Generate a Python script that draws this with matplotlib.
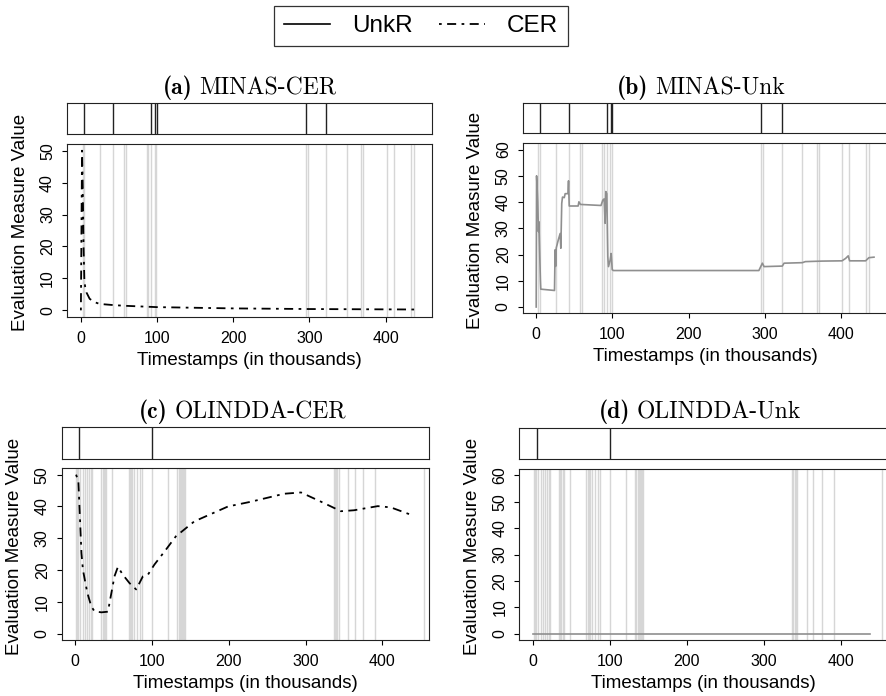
import matplotlib
matplotlib.use('Agg')
import matplotlib.pyplot as plt
from matplotlib.lines import Line2D

plt.rcParams['font.family'] = ['Liberation Sans', 'DejaVu Sans']

# drift / novelty markers (timestamps in thousands)
marks_minas = [3, 4.5, 25.4, 42.8, 56.8, 59.6, 86.7, 89.1, 92.5, 97.3, 99.6,
               295, 298, 322, 349, 368, 370.5, 401.5, 410.5, 433, 436.5]
marks_olindda = [1, 2.5, 4, 6.5, 10, 12.6, 15.6, 17.8, 20.4, 22.1,
                 34, 35.5, 37, 38.5, 40, 47.7, 69.5, 71, 72.5, 74, 77.1, 80.6,
                 84.5, 87.5, 100, 121, 133, 134.5, 136, 137.5, 139, 140.5, 142,
                 143.5, 337, 338.5, 340, 341.5, 343, 355.5, 364.5, 375, 391, 454]
strip_minas = [5, 43, 93, 98, 100, 295, 322]
strip_olindda = [5, 100]

# (a) MINAS CER
cer_minas_x = [0.5, 2, 3, 4, 5, 6, 8, 12, 18, 25, 35, 45, 60, 80, 100, 150,
               200, 250, 300, 350, 400, 443]
cer_minas_y = [0, 50, 38, 20, 10, 7.5, 5.5, 3.6, 2.6, 2.0, 1.8, 1.6, 1.4, 1.2,
               1.0, 0.8, 0.6, 0.5, 0.4, 0.35, 0.3, 0.25]

# (b) MINAS UnkR
unk_minas_x = [0, 0.5, 2, 3, 3.5, 5.5, 6, 24, 24.8, 25.5, 26.3, 29, 31.4, 32.3,
               33.5, 34.5, 36.8, 38, 41.6, 42.4, 43.3, 55, 56, 58, 85, 87.3,
               89.1, 90.4, 91.3, 92.6, 93.9, 94.8, 97, 98.3, 99.7, 101.4, 292,
               296.6, 298.8, 322.8, 325, 349, 353, 375, 401, 405.7, 409.2, 411,
               432, 436.3, 443]
unk_minas_y = [0, 50, 40, 28.7, 32.5, 10.4, 6.8, 6.3, 21.8, 15.5, 22.5, 25.6,
               28, 22.4, 39.5, 41.9, 41.7, 43.2, 43.2, 48.1, 38.5, 38.5, 40.1,
               39.1, 38.7, 40.7, 41.2, 31.9, 44.0, 43.2, 19.2, 15.4, 17.9, 20.4,
               14.2, 13.9, 13.9, 16.7, 15.4, 15.6, 16.7, 16.9, 17.3, 17.5, 17.6,
               18.5, 19.5, 17.6, 17.6, 18.8, 19.0]

# (c) OLINDDA CER
cer_olindda_x = [1, 4, 8, 10, 15.6, 20.8, 25, 34, 42.5, 51, 55.5, 62, 70.6,
                 79.3, 88, 94.5, 103, 118, 131, 155, 199, 229, 272, 294, 320,
                 346, 363, 394, 411, 437]
cer_olindda_y = [50, 48, 25.4, 20, 12.9, 8.6, 7.0, 6.7, 6.9, 18, 21, 18.5,
                 15.9, 13.9, 18, 18.5, 21.7, 26.4, 30.6, 35.3, 40, 41.5, 44,
                 44.4, 41.5, 38.5, 38.8, 40.1, 39.7, 37.4]

# (d) OLINDDA UnkR
unk_olindda_x = [0, 438]
unk_olindda_y = [0, 0]

W, H = 887, 696
fig = plt.figure(figsize=(W / 100, H / 100), dpi=100)


def px(left, top, right, bottom):
    return [left / W, (H - bottom) / H, (right - left) / W, (bottom - top) / H]


def panel(main_box, strip_box, marks, strips, ytop, split_px, tag, name, title_y):
    ax = fig.add_axes(px(*main_box))
    for m in marks:
        ax.axvline(m, color='#d6d6d6', lw=1.0, zorder=1)
    ax.set_xlim(-17.7, 460.7)
    ax.set_ylim(-ytop * 0.04, ytop * 1.04)
    ax.set_xticks([0, 100, 200, 300, 400])
    ax.set_yticks(range(0, ytop + 1, 10))
    ax.tick_params(direction='out', length=3.6, width=0.8, labelsize=11.5,
                   pad=6.5, top=False, right=False)
    ax.tick_params(axis='y', labelrotation=90, pad=5)
    for lab in ax.get_yticklabels():
        lab.set_verticalalignment('center')
    for s in ax.spines.values():
        s.set_linewidth(0.8)
        s.set_color('#222222')
    ax.set_xlabel('Timestamps (in thousands)', fontsize=13.5)
    ax.xaxis.set_label_coords(0.5, -0.205)
    ax.set_ylabel('Evaluation Measure Value', fontsize=13.5)
    ax.yaxis.set_label_coords(-0.105, 0.545)

    st = fig.add_axes(px(*strip_box))
    for s_ in strips:
        st.axvline(s_, color='#222222', lw=1.0)
    st.set_xlim(-17.7, 460.7)
    st.set_xticks([])
    st.set_yticks([])
    for s in st.spines.values():
        s.set_linewidth(0.8)
        s.set_color('#222222')

    fig.text((split_px - 3.5) / W, (H - title_y) / H, tag, family='cmb10',
             fontsize=17, ha='right', va='baseline')
    fig.text((split_px + 3.5) / W, (H - title_y) / H, name, family='cmr10',
             fontsize=17, ha='left', va='baseline')
    return ax


cer_style = dict(color='black', lw=1.3, linestyle=(0, (1.5, 3, 5, 3)), zorder=3)
unk_style = dict(color='#8f8f8f', lw=1.2, zorder=3)

ax_a = panel((67, 144.3, 432, 316.7), (67, 103, 432, 134), marks_minas,
             strip_minas, 50, 196, '(a)', 'MINAS-CER', 94.3)
ax_a.plot(cer_minas_x, cer_minas_y, **cer_style)

ax_b = panel((522.7, 143.3, 887.5, 313.3), (522.7, 102.7, 887.5, 133.3),
             marks_minas, strip_minas, 60, 652, '(b)', 'MINAS-Unk', 94.3)
ax_b.plot(unk_minas_x, unk_minas_y, **unk_style)

ax_c = panel((61.7, 468.3, 429, 640), (61.7, 427.3, 429, 459), marks_olindda,
             strip_olindda, 50, 171, '(c)', 'OLINDDA-CER', 418.3)
ax_c.plot(cer_olindda_x, cer_olindda_y, **cer_style)

ax_d = panel((519.3, 469, 887.5, 640), (519.3, 428.3, 887.5, 459.3),
             marks_olindda, strip_olindda, 60, 633.5, '(d)', 'OLINDDA-Unk', 418.3)
ax_d.plot(unk_olindda_x, unk_olindda_y, **unk_style)

handles = [Line2D([], [], color='black', lw=1.2),
           Line2D([], [], color='black', lw=1.3, linestyle=(0, (1.5, 3, 5, 3)))]
leg = fig.legend(handles, ['UnkR', 'CER'], ncol=2, loc='center',
                 bbox_to_anchor=(421 / W, (H - 26) / H), fontsize=17.5,
                 frameon=True, fancybox=False, handlelength=1.9,
                 handletextpad=0.9, columnspacing=1.1, borderpad=0.38,
                 borderaxespad=0)
leg.get_frame().set_edgecolor('black')
leg.get_frame().set_linewidth(0.9)

fig.savefig('out.png', dpi=100)
